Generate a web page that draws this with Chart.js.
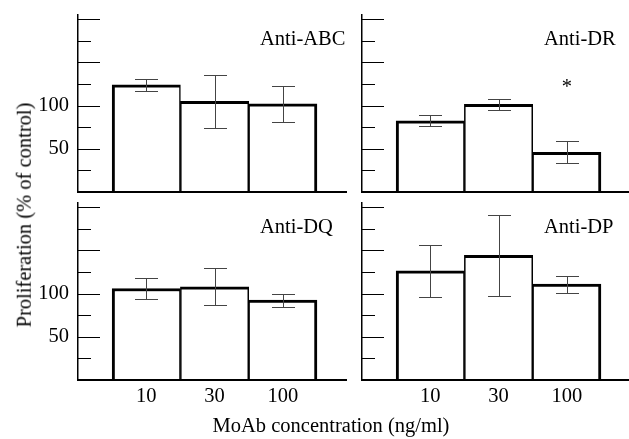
<!DOCTYPE html>
<html>
<head>
<meta charset="utf-8">
<script src="https://cdn.jsdelivr.net/npm/chart.js@4"></script>
<style>
  html, body { margin: 0; padding: 0; overflow: hidden; background: #fff; }
  body { position: relative; width: 629px; height: 439px; }
  canvas { position: absolute; }
  .title { position: absolute; font: 20.5px "Liberation Serif", "Times New Roman", serif; color: #000; white-space: nowrap; line-height: 1; }
  #ytitle { left: 24px; top: 215px; transform: translate(-50%, -50%) rotate(-90deg); }
  #xtitle { left: 331px; top: 415px; transform: translateX(-50%); }
</style>
</head>
<body>
<canvas id="p0" width="347" height="200" style="left:0;top:0"></canvas>
<canvas id="p1" width="347" height="200" style="left:284px;top:0"></canvas>
<canvas id="p2" width="347" height="252" style="left:0;top:188px"></canvas>
<canvas id="p3" width="347" height="252" style="left:284px;top:188px"></canvas>
<div class="title" id="ytitle">Proliferation (% of control)</div>
<div class="title" id="xtitle">MoAb concentration (ng/ml)</div>
<script>
// concentrations on the x axis
const concentrations = ["10", "30", "100"];
const yTicks = [25, 50, 75, 100, 125, 150, 175, 200];
const yLabels = [50, 100];

const panelTitles = ["Anti-ABC", "Anti-DR", "Anti-DQ", "Anti-DP"];

// mean proliferation (% of control) and error
const abcMean = [124, 105, 102];
const abcErr = [7, 31, 20.5];
const drMean = [82.5, 101.5, 46];
const drErr = [6.5, 6, 12.5];
const dqMean = [106, 108, 92.5];
const dqErr = [12.5, 21.5, 7.5];
const dpMean = [126.5, 144.5, 111];
const dpErr = [30, 47, 10];

// significance marks
const drMarks = ["", "", "*"];
const markLevel = 126;

const FONT = '"Liberation Serif", "Times New Roman", serif';
Chart.defaults.font.family = FONT;
Chart.defaults.font.size = 20.5;
Chart.defaults.color = "#000";

const panelDecor = {
	id: "panelDecor",
	afterDatasetsDraw(chart, args, opts) {
		const { ctx, chartArea, scales: { x, y } } = chart;
		ctx.save();

		// inward tick marks on the y axis
		ctx.strokeStyle = "#000";
		ctx.lineWidth = 1;
		y.ticks.forEach((t) => {
			const py = Math.round(y.getPixelForValue(t.value)) + 0.5;
			const len = t.value % 50 === 0 ? 22 : 13;
			ctx.beginPath();
			ctx.moveTo(chartArea.left, py);
			ctx.lineTo(chartArea.left + len, py);
			ctx.stroke();
		});

		// error bars
		ctx.strokeStyle = "#444";
		ctx.lineWidth = 1;
		opts.mean.forEach((m, i) => {
			const px = Math.round(x.getPixelForValue(i + 1)) + 0.5;
			const top = Math.round(y.getPixelForValue(m + opts.err[i])) + 0.5;
			const bot = Math.round(y.getPixelForValue(m - opts.err[i])) + 0.5;
			ctx.beginPath();
			ctx.moveTo(px, top);
			ctx.lineTo(px, bot);
			ctx.moveTo(px - 11.5, top);
			ctx.lineTo(px + 11.5, top);
			ctx.moveTo(px - 11.5, bot);
			ctx.lineTo(px + 11.5, bot);
			ctx.stroke();
		});

		ctx.fillStyle = "#000";
		ctx.font = "20.5px " + FONT;

		// significance marks
		if (opts.marks) {
			ctx.textAlign = "center";
			ctx.textBaseline = "alphabetic";
			opts.marks.forEach((s, i) => {
				if (!s) return;
				ctx.fillText(s, x.getPixelForValue(i + 1), y.getPixelForValue(markLevel) + 9.5);
			});
		}

		// panel name
		ctx.textAlign = "left";
		ctx.fillText(opts.title, chartArea.left + 182, chartArea.top + 30);
		ctx.restore();
	},
};

function drawPanel(id, n, mean, err, marks, showY, showX) {
	const config = {
		type: "bar",
		data: {
			datasets: [
				{
					data: mean.map((v, i) => ({ x: i + 1, y: v })),
					backgroundColor: "#fff",
					borderColor: "#000",
					borderWidth: (c) => ({
						top: 3,
						bottom: 0,
						left: c.dataIndex === 0 ? 3 : 1.5,
						right: c.dataIndex === mean.length - 1 ? 3 : 1.5,
					}),
					barPercentage: 1,
					categoryPercentage: 1,
				},
			],
		},
		options: {
			responsive: false,
			animation: false,
			layout: { autoPadding: false, padding: { top: 15, left: 0, right: 0, bottom: 0 } },
			plugins: {
				legend: { display: false },
				tooltip: { enabled: false },
				panelDecor: { title: panelTitles[n], mean: mean, err: err, marks: marks },
			},
			scales: {
				x: {
					type: "linear",
					min: 0,
					max: 3.94,
					offset: false,
					afterBuildTicks: (s) => {
						s.ticks = concentrations.map((c, i) => ({ value: i + 1 }));
					},
					afterFit: (s) => {
						s.height = showX ? 60 : 8;
						s.paddingLeft = 0;
						s.paddingRight = 0;
					},
					grid: { display: false, drawTicks: false, offset: false },
					border: { display: true, color: "#000", width: 2, z: 1 },
					ticks: {
						display: showX,
						padding: 4,
						maxRotation: 0,
						autoSkip: false,
						callback: (v) => concentrations[v - 1] || "",
					},
				},
				y: {
					min: 0,
					max: 205,
					afterBuildTicks: (s) => {
						s.ticks = yTicks.map((v) => ({ value: v }));
					},
					afterFit: (s) => {
						s.width = 78;
						s.paddingTop = 0;
						s.paddingBottom = 0;
					},
					grid: { display: false, drawTicks: false },
					border: { display: true, color: "#000", width: 1.5, z: 1 },
					ticks: {
						display: showY,
						padding: 9,
						autoSkip: false,
						callback: (v) => (yLabels.includes(v) ? v : ""),
					},
				},
			},
		},
		plugins: [panelDecor],
	};
	return new Chart(document.getElementById(id).getContext("2d"), config);
}

drawPanel("p0", 0, abcMean, abcErr, null, true, false);
drawPanel("p1", 1, drMean, drErr, drMarks, false, false);
drawPanel("p2", 2, dqMean, dqErr, null, true, true);
drawPanel("p3", 3, dpMean, dpErr, null, false, true);
</script>
</body>
</html>
